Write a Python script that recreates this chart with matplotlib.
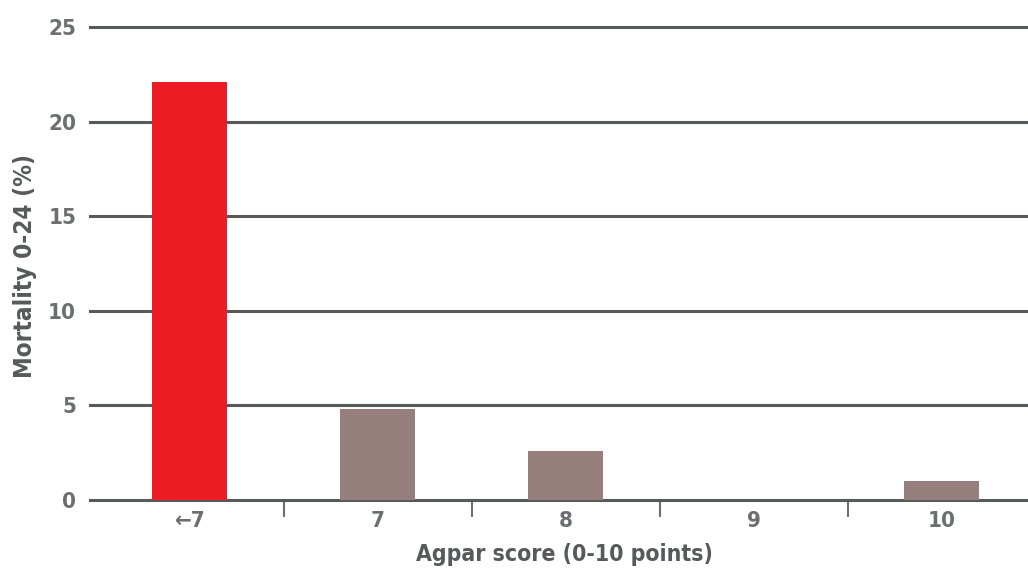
import matplotlib
matplotlib.use("Agg")
import matplotlib.pyplot as plt
import numpy as np

categories = ["←7", "7", "8", "9", "10"]
values = [22.1, 4.8, 2.6, 0.0, 1.0]
colors = ["#ED1C24", "#967F7C", "#967F7C", "#967F7C", "#967F7C"]
yticks = [0, 5, 10, 15, 20, 25]

plt.rcParams['font.family'] = ['DejaVu Sans']

fig = plt.figure(figsize=(10.28, 5.73), dpi=100)
ax = fig.add_axes([90/1028, 73/573, 938/1028, 473/573])

x = np.arange(len(categories))
ax.bar(x, values, width=0.4, color=colors, zorder=3)

ax.set_ylim(0, 25)
ax.set_xlim(-0.53, 4.46)
ax.set_yticks(yticks)
for y in yticks:
    ax.axhline(y, color="#58595b", lw=2.2, zorder=2, clip_on=False)

for s in ax.spines.values():
    s.set_visible(False)

ax.set_xticks(x)
ax.set_xticklabels(categories)
ax.tick_params(axis='x', length=0, pad=8, labelsize=16, labelcolor="#6d6e71")
ax.tick_params(axis='y', length=0, pad=10, labelsize=16, labelcolor="#6d6e71")
for lab in ax.get_xticklabels() + ax.get_yticklabels():
    lab.set_fontweight('bold')
    lab.set_fontstretch('condensed')

# separator ticks between categories
ax.set_xticks(x[:-1] + 0.5, minor=True)
ax.tick_params(axis='x', which='minor', length=12, width=1.5, color="#6d6e71", direction='out')

ax.set_ylabel("Mortality 0-24 (%)", fontsize=17.5, fontweight='bold', color="#58595b",
              fontstretch='condensed')
ax.yaxis.set_label_coords(-(90-37)/938, (500-266)/473)
ax.set_xlabel("Agpar score (0-10 points)", fontsize=16.5, fontweight='bold', color="#58595b",
              fontstretch='condensed')
ax.xaxis.set_label_coords((564-90)/938, -(543-500)/473)

fig.savefig("out.png", dpi=100)
